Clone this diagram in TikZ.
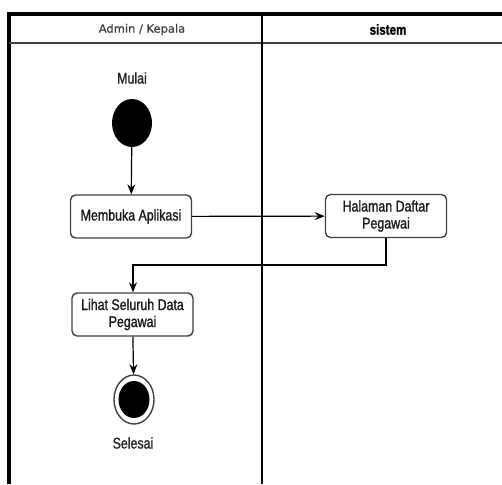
\documentclass[tikz,border=0pt]{standalone}
\usepackage{fontspec}
\setmainfont{Liberation Sans}
\newfontfamily\boxfont[FakeStretch=0.8,FakeBold=1.2]{Liberation Sans}
\newfontfamily\headfont[FakeBold=0.5]{DejaVu Sans}
\usetikzlibrary{arrows.meta,shapes.geometric}
\begin{document}
\begin{tikzpicture}[x=1pt,y=-1pt,
  action/.style={draw=black!75, line width=1.4pt, rounded corners=5pt, fill=white,
    minimum width=121pt, minimum height=43pt, align=center,
    font=\boxfont\fontsize{15.5}{17}\selectfont, text=black!90, inner sep=2pt},
  flow/.style={draw=black, line width=1.2pt, -{Stealth[length=10pt,width=8pt]}},
  label/.style={font=\boxfont\fontsize{15.5}{17}\selectfont, text=black!85}]
\useasboundingbox (0,0) rectangle (502,484);
% swimlane frame
\draw[line width=3.5pt] (9,14) -- (502,14);
\draw[line width=3.5pt] (9,12.3) -- (9,484);
\draw[line width=2pt, black!75] (9,43) -- (502,43);
\draw[line width=2.4pt] (262,14) -- (262,484);
\node[font=\headfont\fontsize{11.5}{13}\selectfont, text=black!75] (laneA) at (142,29.5) {Admin / Kepala};
\node[font=\boxfont\bfseries\fontsize{14.5}{16}\selectfont] (laneB) at (388,29.5) {sistem};
% start
\node[label] (mulai) at (132,78) {Mulai};
\node[draw=none, fill=black, ellipse, minimum width=40pt, minimum height=48pt, inner sep=0pt] (start) at (132,123) {};
% actions
\node[action] (buka) at (131,216.5) {Membuka Aplikasi};
\node[action] (halaman) at (386,216) {Halaman Daftar\\Pegawai};
\node[action] (lihat) at (132.5,314.5) {Lihat Seluruh Data\\Pegawai};
% end
\node[draw=black!75, line width=1.4pt, fill=white, ellipse, minimum width=40pt, minimum height=49pt, inner sep=0pt] (stop) at (134,399.5) {};
\node[fill=black, ellipse, minimum width=31pt, minimum height=37pt, inner sep=0pt] (stopin) at (134,399.5) {};
\node[label] (selesai) at (133,443) {Selesai};
\coordinate (turnA) at (386,265);
\coordinate (turnB) at (133,265);
% flows
\draw[flow] (start) -- (buka);
\draw[flow] (buka) -- (halaman);
\draw[flow] (halaman.south) -- (turnA) -- (turnB) -- (turnB |- lihat.north);
\draw[flow] (lihat) -- (stop);
\end{tikzpicture}
\end{document}
